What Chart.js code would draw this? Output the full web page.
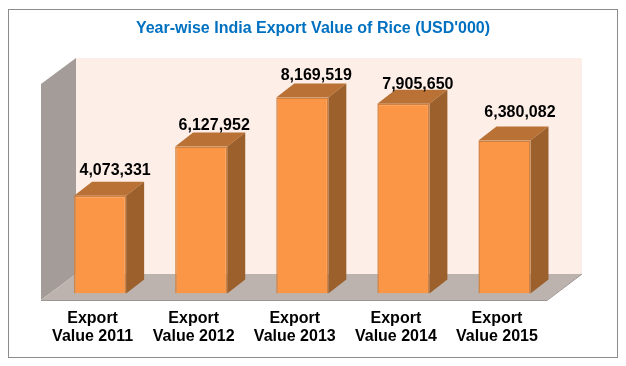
<!DOCTYPE html>
<html>
<head>
<meta charset="utf-8">
<style>
  html, body { margin: 0; padding: 0; background: #fff; }
  canvas { display: block; }
</style>
<script src="https://cdn.jsdelivr.net/npm/chart.js@4/dist/chart.umd.min.js"></script>
</head>
<body>
<canvas id="riceChart" width="626" height="366"></canvas>
<script>
const categories = ["Export Value 2011", "Export Value 2012", "Export Value 2013", "Export Value 2014", "Export Value 2015"];
const exportValues = [4073331, 6127952, 8169519, 7905650, 6380082];
const chartTitle = "Year-wise India Export Value of Rice (USD'000)";

// depth of the fake 3d box
const barDepthX = 18;
const barDepthY = 14;

// the value labels were nudged by hand in the original
const labelShiftX = [15, 13, 14, 14.5, 15.5];
const labelShiftY = [6.5, 2, 3, 0.7, 9.4];

function poly(ctx, pts, fill) {
  ctx.beginPath();
  pts.forEach((p, i) => (i ? ctx.lineTo(p[0], p[1]) : ctx.moveTo(p[0], p[1])));
  ctx.closePath();
  ctx.fillStyle = fill;
  ctx.fill();
}

// frame, walls and floor behind the bars
const roomPlugin = {
  id: "room",
  afterLayout(chart) {
    // title is centred on the whole frame, not the padded area
    chart.titleBlock.left = 0;
    chart.titleBlock.right = chart.width;
  },
  beforeDraw(chart) {
    const ctx = chart.ctx;
    const base = chart.scales.y.getPixelForValue(0);
    const left = chart.chartArea.left - 8.56;
    const right = left + 506;
    const front = base + 6.5;
    const back = front - 26;
    const top = 58;

    ctx.save();
    ctx.fillStyle = "#fff";
    ctx.fillRect(0, 0, chart.width, chart.height);
    ctx.strokeStyle = "#8c8c8c";
    ctx.lineWidth = 1;
    ctx.strokeRect(8.5, 9.5, 609, 348);

    poly(ctx, [[left + 35, top], [right + 35, top], [right + 35, back], [left + 35, back]], "#fdeee7");
    poly(ctx, [[left, top + 26], [left + 35, top], [left + 35, back], [left, front]], "#a39c98");
    poly(ctx, [[left, front], [left + 35, back], [right + 35, back], [right, front]], "#bdb3ae");

    ctx.strokeStyle = "#9a9591";
    ctx.beginPath();
    ctx.moveTo(left, front + 0.5);
    ctx.lineTo(right, front + 0.5);
    ctx.lineTo(right + 35, back);
    ctx.stroke();
    ctx.restore();
  },
  beforeDatasetsDraw(chart) {
    const ctx = chart.ctx;
    chart.getDatasetMeta(0).data.forEach((bar) => {
      const x0 = bar.x - bar.width / 2;
      const x1 = bar.x + bar.width / 2;
      poly(ctx, [[x0, bar.y], [x0 + barDepthX, bar.y - barDepthY], [x1 + barDepthX, bar.y - barDepthY], [x1, bar.y]], "#b97135");
      poly(ctx, [[x1, bar.y], [x1 + barDepthX, bar.y - barDepthY], [x1 + barDepthX, bar.base - barDepthY], [x1, bar.base]], "#9c602c");
    });
  },
  afterDatasetsDraw(chart) {
    const ctx = chart.ctx;
    ctx.save();
    ctx.font = "bold 16px 'Liberation Sans'";
    ctx.fillStyle = "#000";
    ctx.textAlign = "center";
    ctx.textBaseline = "alphabetic";
    chart.getDatasetMeta(0).data.forEach((bar, i) => {
      ctx.fillText(exportValues[i].toLocaleString("en-US"), bar.x + labelShiftX[i], bar.y - barDepthY - labelShiftY[i]);
    });
    ctx.restore();
  },
};

new Chart(document.getElementById("riceChart").getContext("2d"), {
  type: "bar",
  plugins: [roomPlugin],
  data: {
    labels: categories,
    datasets: [
      {
        data: exportValues,
        backgroundColor: "#fc9647",
        borderColor: "#d0813f",
        borderWidth: 1.5,
        categoryPercentage: 1,
        barPercentage: 0.515,
      },
    ],
  },
  options: {
    responsive: false,
    animation: false,
    layout: { padding: { left: 49.56, right: 71, top: 0, bottom: 0 } },
    plugins: {
      legend: { display: false },
      tooltip: { enabled: false },
      title: {
        display: true,
        text: chartTitle,
        color: "#0070c0",
        font: { family: "'Liberation Sans'", size: 16, weight: "bold", lineHeight: 1 },
        padding: { top: 21, bottom: 16.5 },
      },
    },
    scales: {
      x: {
        grid: { display: false },
        border: { display: false },
        afterFit(scale) {
          scale.height = 72.5;
        },
        ticks: {
          color: "#000",
          font: { family: "'Liberation Sans'", size: 16, weight: "bold", lineHeight: 1.13 },
          padding: 8,
          labelOffset: -7.5,
          maxRotation: 0,
          autoSkip: false,
          callback(value, i) {
            const words = categories[i].split(" ");
            return [words[0], words.slice(1).join(" ")];
          },
        },
      },
      y: { display: false, min: 0, max: 10000000 },
    },
  },
});
</script>
</body>
</html>
